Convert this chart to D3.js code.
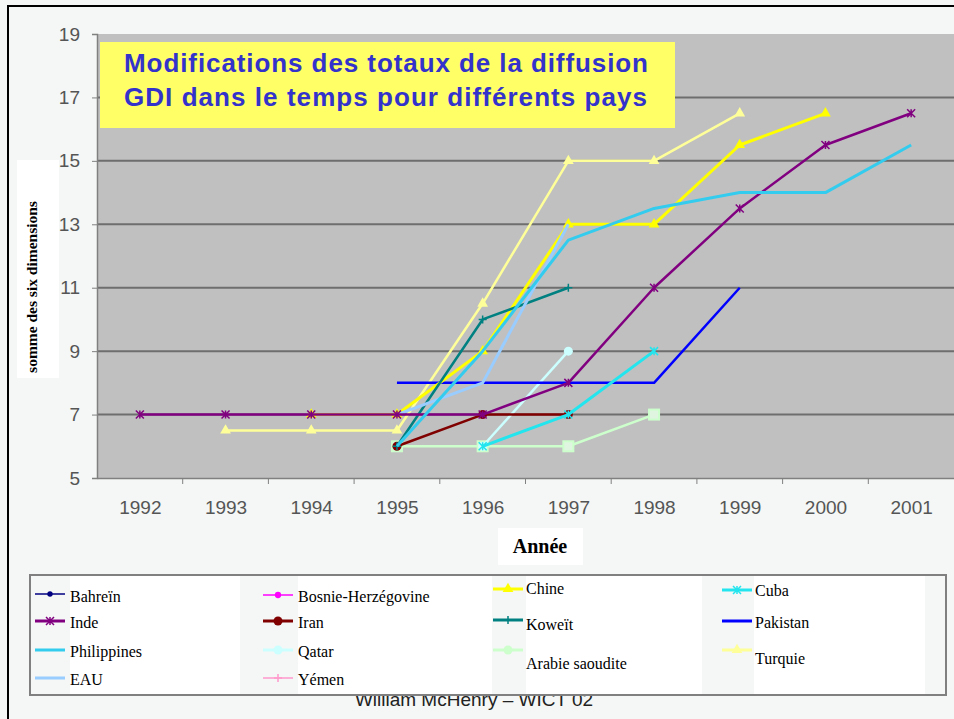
<!DOCTYPE html>
<html><head><meta charset="utf-8">
<script src="https://cdn.jsdelivr.net/npm/d3@7/dist/d3.min.js"></script>
<style>body{margin:0;background:#f4f7f5;}svg{display:block;}</style>
</head><body>
<svg id="c" width="954" height="719"></svg>
<script>
const years = ["1992","1993","1994","1995","1996","1997","1998","1999","2000","2001"];
const yTicks = [5,7,9,11,13,15,17,19];
const bahrein   = [null,null,null,null,null,null,null,null,null,null];
const bosnie    = [null,null,null,null,null,null,null,null,null,null];
const yemen     = [null,null,null,null,null,null,null,null,null,null];
const chine     = [null,null,7,7,9,13,13,15.5,16.5,null];
const cuba      = [null,null,null,null,6,7,9,null,null,null];
const inde      = [7,7,7,7,7,8,11,13.5,15.5,16.5];
const iran      = [null,null,null,6,7,7,null,null,null,null];
const koweit    = [null,null,null,6,10,11,null,null,null,null];
const pakistan  = [null,null,null,8,8,8,8,11,null,null];
const philippines=[null,null,null,6,9,12.5,13.5,14,14,15.5];
const qatar     = [null,null,null,null,6,9,null,null,null,null];
const arabie    = [null,null,null,6,6,6,7,null,null,null];
const turquie   = [null,6.5,6.5,6.5,10.5,15,15,16.5,null,null];
const eau       = [null,null,null,7,8,13,null,null,null,null];

const series = [
  {name:"Turquie", v:turquie, c:"#ffff99", w:2.5, m:"tri"},
  {name:"Arabie saoudite", v:arabie, c:"#ccffcc", w:2.5, m:"sq"},
  {name:"Qatar", v:qatar, c:"#ccffff", w:2.5, m:"circ"},
  {name:"Pakistan", v:pakistan, c:"#0000ff", w:2.5, m:null},
  {name:"Chine", v:chine, c:"#ffff00", w:3, m:"tri"},
  {name:"Iran", v:iran, c:"#800000", w:2.5, m:"dot"},
  {name:"Cuba", v:cuba, c:"#22e5ee", w:3, m:"star"},
  {name:"Koweït", v:koweit, c:"#008080", w:2.5, m:"plus"},
  {name:"EAU", v:eau, c:"#99ccff", w:3, m:null},
  {name:"Inde", v:inde, c:"#800080", w:2.5, m:"star"},
  {name:"Philippines", v:philippines, c:"#33ccee", w:3, m:null}
];

const svg = d3.select("#c");
const L=97, R=954, T=34, B=478;
const x = d3.scalePoint().domain(years).range([L,R]).padding(0.5);
const y = d3.scaleLinear().domain([5,19]).range([B,T]);

// outer frame
svg.append("rect").attr("x",8).attr("y",6).attr("width",960).attr("height",730)
  .attr("fill","none").attr("stroke","#000").attr("stroke-width",2);

// footer (behind legend)
svg.append("text").attr("x",474).attr("y",706).attr("text-anchor","middle")
  .attr("font-family","Arial, 'Liberation Sans'").attr("font-size",19).attr("fill","#222")
  .text("William McHenry – WICT 02");

// plot bg
svg.append("rect").attr("x",L).attr("y",T).attr("width",R-L).attr("height",B-T).attr("fill","#c0c0c0");
// grid
svg.append("g").selectAll("line").data(yTicks.filter(d=>d>5&&d<19)).join("line")
  .attr("x1",L).attr("x2",R).attr("y1",d=>y(d)).attr("y2",d=>y(d))
  .attr("stroke","#6e6e6e").attr("stroke-width",2);

// y axis
const ya = svg.append("g").attr("transform",`translate(${L},0)`)
  .call(d3.axisLeft(y).tickValues(yTicks).tickSize(5).tickPadding(12));
ya.select(".domain").attr("stroke","#808080").attr("stroke-width",1.5);
ya.selectAll(".tick line").attr("stroke","#808080");
ya.selectAll("text").attr("font-family","Arial, 'Liberation Sans'").attr("font-size",19).attr("fill","#555");

// x axis
const xa = svg.append("g").attr("transform",`translate(0,${B})`)
  .call(d3.axisBottom(x).tickSize(0).tickPadding(23));
xa.select(".domain").attr("stroke","#808080").attr("stroke-width",1.5);
xa.selectAll("text").attr("font-family","Arial, 'Liberation Sans'").attr("font-size",19).attr("fill","#555");
const step = x.step();
xa.append("g").selectAll("line").data(years.slice(0,-1)).join("line")
  .attr("x1",d=>x(d)+step/2).attr("x2",d=>x(d)+step/2).attr("y1",0).attr("y2",6)
  .attr("stroke","#808080");

// title box
svg.append("rect").attr("x",100).attr("y",42).attr("width",575).attr("height",86).attr("fill","#ffff66");
const tt = svg.append("text").attr("font-family","Arial, 'Liberation Sans'").attr("font-weight","bold")
  .attr("font-size",26).attr("fill","#3333cc");
tt.append("tspan").attr("x",124).attr("y",72).attr("textLength",524).attr("lengthAdjust","spacing").text("Modifications des totaux de la diffusion");
tt.append("tspan").attr("x",124).attr("y",106).attr("textLength",523).attr("lengthAdjust","spacing").text("GDI dans le temps pour différents pays");

// markers
function marker(g, type, cx, cy, c, s){
  s = s||1;
  if(type==="tri") g.append("path").attr("d",d3.symbol(d3.symbolTriangle,50*s)()).attr("transform",`translate(${cx},${cy})`).attr("fill",c);
  else if(type==="sq") g.append("rect").attr("x",cx-5*s).attr("y",cy-5*s).attr("width",10*s).attr("height",10*s).attr("fill","#e0f5e0").attr("stroke",c).attr("stroke-width",2);
  else if(type==="circ") g.append("circle").attr("cx",cx).attr("cy",cy).attr("r",4.5*s).attr("fill",c);
  else if(type==="dot") g.append("circle").attr("cx",cx).attr("cy",cy).attr("r",4.5*s).attr("fill",c);
  else if(type==="star"){ const r=4*s;
    g.append("path").attr("d",`M${cx-r},${cy-r}L${cx+r},${cy+r}M${cx-r},${cy+r}L${cx+r},${cy-r}M${cx},${cy-r}L${cx},${cy+r}`).attr("stroke",c).attr("stroke-width",1.5);}
  else if(type==="plus"){ const r=4*s;
    g.append("path").attr("d",`M${cx-r},${cy}L${cx+r},${cy}M${cx},${cy-r}L${cx},${cy+r}`).attr("stroke",c).attr("stroke-width",1.5);}
}

const line = d3.line().defined(d=>d.v!=null).x(d=>x(d.y)).y(d=>y(d.v));
const lg = svg.append("g");
series.forEach(s=>{
  const pts = years.map((yy,i)=>({y:yy,v:s.v[i]}));
  lg.append("path").datum(pts).attr("d",line).attr("fill","none").attr("stroke",s.c).attr("stroke-width",s.w).attr("stroke-linejoin","round");
  if(s.m) pts.filter(p=>p.v!=null).forEach(p=>marker(lg,s.m,x(p.y),y(p.v),s.c));
});

// y label
svg.append("rect").attr("x",17).attr("y",160).attr("width",42).attr("height",218).attr("fill","#fff");
svg.append("text").attr("transform","translate(37,287) rotate(-90)").attr("text-anchor","middle")
  .attr("font-family","'Liberation Serif', 'Times New Roman', serif").attr("font-weight","bold").attr("font-size",15.5)
  .text("somme des six dimensions");

// x label
svg.append("rect").attr("x",498).attr("y",528).attr("width",85).attr("height",37).attr("fill","#fff");
svg.append("text").attr("x",540).attr("y",553).attr("text-anchor","middle")
  .attr("font-family","'Liberation Serif', 'Times New Roman', serif").attr("font-weight","bold").attr("font-size",20)
  .text("Année");

// legend
const leg = svg.append("g");
leg.append("rect").attr("x",30).attr("y",575).attr("width",916).attr("height",120).attr("fill","#f4f7f5").attr("stroke","#808080").attr("stroke-width",2);
[[70,170],[298,194],[526,176],[754,171]].forEach(([lx,w])=>
  leg.append("rect").attr("x",lx).attr("y",576).attr("width",w).attr("height",118).attr("fill","#fff"));
const legItems = [
  {name:"Bahreïn", c:"#000080", m:"dot", w:1.5, lx:35, ly:594, ty:596, sz:0.6},
  {name:"Inde", c:"#800080", m:"star", w:3, lx:35, ly:621, ty:622},
  {name:"Philippines", c:"#33ccee", m:null, w:3, lx:35, ly:650, ty:651},
  {name:"EAU", c:"#99ccff", m:null, w:3, lx:35, ly:678, ty:679},
  {name:"Bosnie-Herzégovine", c:"#ff00ff", m:"dot", w:1.5, lx:263, ly:595, ty:596, sz:0.7},
  {name:"Iran", c:"#800000", m:"dot", w:3, lx:263, ly:621, ty:622},
  {name:"Qatar", c:"#ccffff", m:"circ", w:3, lx:263, ly:650, ty:651},
  {name:"Yémen", c:"#ff99cc", m:"plus", w:1.5, lx:263, ly:678, ty:679},
  {name:"Chine", c:"#ffff00", m:"tri", w:3, lx:493, ly:589, ty:588},
  {name:"Koweït", c:"#008080", m:"plus", w:3, lx:493, ly:620, ty:624},
  {name:"Arabie saoudite", c:"#ccffcc", m:"circ", w:3, lx:493, ly:650, ty:663},
  {name:"Cuba", c:"#22e5ee", m:"star", w:3, lx:722, ly:590, ty:590},
  {name:"Pakistan", c:"#0000ff", m:null, w:3, lx:722, ly:621, ty:622},
  {name:"Turquie", c:"#ffff99", m:"tri", w:3, lx:722, ly:650, ty:658}
];
legItems.forEach(d=>{
  leg.append("line").attr("x1",d.lx).attr("x2",d.lx+30).attr("y1",d.ly).attr("y2",d.ly).attr("stroke",d.c).attr("stroke-width",d.w);
  if(d.m) marker(leg,d.m,d.lx+15,d.ly,d.c,d.sz||1);
  leg.append("text").attr("x",d.lx+(d.lx<100?35:d.lx<300?35:33)).attr("y",d.ty).attr("dy","0.35em")
    .attr("font-family","'Liberation Serif', 'Times New Roman', serif").attr("font-size",16).attr("fill","#000")
    .text(d.name);
});
</script>
</body></html>
